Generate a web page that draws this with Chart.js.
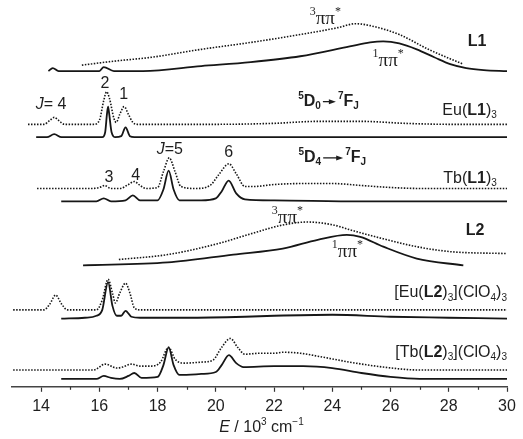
<!DOCTYPE html>
<html>
<head>
<meta charset="utf-8">
<script src="https://cdn.jsdelivr.net/npm/chart.js@4.4.1/dist/chart.umd.min.js"></script>
<style>
  html, body { margin: 0; padding: 0; background: #fff; }
</style>
</head>
<body>
<canvas id="chart" width="523" height="439"></canvas>
<script>
// x axis: E / 10^3 cm-1, y: stacked intensity (arbitrary, offset per trace)
const xMin = 13
const xMax = 30
const yMax = 392

// L1 ligand: fluorescence (solid) and phosphorescence (dotted)
const l1Solid = [[14.25,320],[14.4,323],[14.6,320],[16.0,320],[16.15,324],[16.5,320],[17.5,320],[19.5,325],[21.2,329],[22.9,335],[24.6,345],[25.3,349],[25.75,350],[26.3,348],[26.9,342],[27.5,334],[28.05,327],[28.6,323],[29.2,321],[30,320]]
const l1Dotted = [[15.4,326],[16.5,330],[17.8,334],[19.5,342],[21.2,349],[22.9,357],[24.2,364],[24.8,368],[25.3,366],[26.3,357],[27.3,342],[28.0,333],[28.5,327]]

// Eu(L1)3
const euL1Dotted = [[13.55,266],[14.1,266],[14.3,270],[14.45,273],[14.6,270],[14.8,266],[15.8,266],[16.0,270],[16.15,290],[16.25,299],[16.35,292],[16.5,272],[16.58,268],[16.7,276],[16.85,284],[17.0,276],[17.15,268],[17.3,266],[20,266],[22,267],[23.5,269],[25,269],[26.5,267],[28,266],[30,266]]
const euL1Solid = [[13.83,253],[14.2,253],[14.45,256],[14.7,253],[16.1,253],[16.2,258],[16.26,276],[16.3,284],[16.34,276],[16.42,258],[16.55,253],[16.75,254],[16.9,263],[17.05,254],[17.2,253],[30,253]]

// Tb(L1)3
const tbL1Dotted = [[13.86,201],[15.7,201],[16.0,202],[16.18,204],[16.4,201],[16.7,201],[17.0,205],[17.2,208],[17.4,204],[17.6,201],[18.0,202],[18.2,218],[18.4,232],[18.6,218],[18.8,203],[19.3,201],[19.8,204],[20.1,215],[20.45,226],[20.7,216],[21.0,203],[21.3,203],[22,205],[23,206],[24,206],[25,204],[26,202],[27,201],[30,201]]
const tbL1Solid = [[14.69,188],[15.9,188],[16.15,191],[16.4,188],[16.9,189],[17.15,194],[17.4,189],[18.0,189],[18.2,200],[18.38,219],[18.55,200],[18.75,189],[19.5,189],[20.0,191],[20.2,198],[20.44,209],[20.7,196],[21.0,190],[22,189],[25,188],[30,188]]

// L2 ligand
const l2Dotted = [[16.67,129],[18.35,134],[20.06,145],[21.2,155],[22.3,164],[23.15,167],[24.04,164],[24.62,159],[25.75,150],[26.9,142],[28.05,137],[30,135]]
const l2Solid = [[15.44,123],[18.35,126],[20.6,134],[22.3,140],[23.5,149],[24.5,154],[24.96,152],[25.75,142],[26.9,130],[28.5,123]]

// [Eu(L2)3](ClO4)3
const euL2Dotted = [[13.04,78],[14.1,78],[14.3,84],[14.5,93],[14.7,84],[14.9,78],[15.9,78],[16.1,88],[16.3,109],[16.45,95],[16.55,85],[16.7,95],[16.9,105],[17.05,95],[17.2,80],[17.4,78],[30,78]]
const euL2Solid = [[14.69,69],[15.5,70],[15.9,72],[16.1,78],[16.3,106],[16.45,82],[16.6,72],[16.75,72],[16.9,77],[17.1,71],[17.4,70],[19,70],[21,71],[22,72],[24,73],[26,71],[28,70],[30,69]]

// [Tb(L2)3](ClO4)3
const tbL2Dotted = [[13.04,17],[15.8,17],[16.2,23],[16.6,19],[16.8,20],[17.1,23],[17.4,21],[17.8,21],[18.1,25],[18.38,40],[18.6,28],[18.9,24],[19.5,25],[19.9,27],[20.2,40],[20.5,49],[20.75,40],[21.0,33],[21.5,34],[22.0,34],[22.3,35],[22.9,34],[23.5,31],[24.6,25],[25.75,20],[27,17],[30,17]]
const tbL2Solid = [[14.69,8],[15.9,8],[16.15,11],[16.4,9],[16.7,8],[17.0,11],[17.2,14],[17.45,9],[18.0,10],[18.2,22],[18.38,40],[18.55,22],[18.75,12],[19.5,13],[20.0,15],[20.2,22],[20.45,32],[20.7,24],[20.95,20],[22,21],[23,21],[24,19],[25,14],[26,10],[27,8],[30,8]]

const solidTraces = [l1Solid, euL1Solid, tbL1Solid, l2Solid, euL2Solid, tbL2Solid]
const dottedTraces = [l1Dotted, euL1Dotted, tbL1Dotted, l2Dotted, euL2Dotted, tbL2Dotted]

// annotations: [x (E), y, align, segments]
const pipi3 = [{ t: '3', sup: 1, serif: 1 }, { t: 'ππ', serif: 1 }, { t: '*', sup: 1, serif: 1 }]
const pipi1 = [{ t: '1', sup: 1, serif: 1 }, { t: 'ππ', serif: 1 }, { t: '*', sup: 1, serif: 1 }]
const labels = [
    [23.76, 373, 'center', pipi3],
    [25.92, 330, 'center', pipi1],
    [28.97, 350, 'center', [{ t: 'L1', b: 1 }]],
    [14.34, 286, 'center', [{ t: 'J', i: 1 }, { t: '= 4' }]],
    [16.19, 307, 'center', [{ t: '2' }]],
    [16.84, 296, 'center', [{ t: '1' }]],
    [23.87, 289, 'center', [{ t: '5', sup: 1, b: 1 }, { t: 'D', b: 1 }, { t: '0', sub: 1, b: 1 }, { arrow: 17 }, { t: '7', sup: 1, b: 1 }, { t: 'F', b: 1 }, { t: 'J', sub: 1, b: 1 }]],
    [29.65, 280, 'right', [{ t: 'Eu(' }, { t: 'L1', b: 1 }, { t: ')' }, { t: '3', sub: 1 }]],
    [18.42, 240, 'center', [{ t: 'J', i: 1 }, { t: '=5' }]],
    [20.44, 237, 'center', [{ t: '6' }]],
    [16.33, 212, 'center', [{ t: '3' }]],
    [17.25, 214, 'center', [{ t: '4' }]],
    [24.0, 232, 'center', [{ t: '5', sup: 1, b: 1 }, { t: 'D', b: 1 }, { t: '4', sub: 1, b: 1 }, { arrow: 24 }, { t: '7', sup: 1, b: 1 }, { t: 'F', b: 1 }, { t: 'J', sub: 1, b: 1 }]],
    [29.65, 211, 'right', [{ t: 'Tb(' }, { t: 'L1', b: 1 }, { t: ')' }, { t: '3', sub: 1 }]],
    [22.46, 171, 'center', pipi3],
    [24.52, 137, 'center', pipi1],
    [28.9, 158, 'center', [{ t: 'L2', b: 1 }]],
    [30, 95, 'right', [{ t: '[Eu(' }, { t: 'L2', b: 1 }, { t: ')' }, { t: '3', sub: 1 }, { t: '](ClO' }, { t: '4', sub: 1 }, { t: ')' }, { t: '3', sub: 1 }]],
    [30, 35, 'right', [{ t: '[Tb(' }, { t: 'L2', b: 1 }, { t: ')' }, { t: '3', sub: 1 }, { t: '](ClO' }, { t: '4', sub: 1 }, { t: ')' }, { t: '3', sub: 1 }]]
]
const minorTicks = [15, 17, 19, 21, 23, 25, 27, 29]

const textColor = '#1e1e1e'
const lineColor = '#161616'

function drawRich(ctx, segs, x, y, size, align) {
    let parts = segs.map(s => {
        let fs = (s.sup || s.sub) ? Math.round(size * 0.62) : size
        let fam = s.serif ? '"Liberation Serif"' : '"Liberation Sans"'
        let font = (s.i ? 'italic ' : '') + (s.b ? 'bold ' : '') + fs + 'px ' + fam
        ctx.font = font
        let w = s.arrow ? s.arrow : ctx.measureText(s.t).width
        let dy = s.sup ? -size * 0.36 : s.sub ? size * 0.3 : 0
        return { s, font, w, dy }
    })
    let total = parts.reduce((a, p) => a + p.w, 0)
    let cx = align === 'right' ? x - total : align === 'center' ? x - total / 2 : x
    ctx.save()
    ctx.fillStyle = textColor
    ctx.strokeStyle = textColor
    ctx.textBaseline = 'middle'
    ctx.textAlign = 'left'
    parts.forEach(p => {
        if (p.s.arrow) {
            let x0 = cx + 2, x1 = cx + p.w - 2
            ctx.lineWidth = 1.3
            ctx.beginPath()
            ctx.moveTo(x0, y)
            ctx.lineTo(x1 - 5, y)
            ctx.stroke()
            ctx.beginPath()
            ctx.moveTo(x1, y)
            ctx.lineTo(x1 - 7, y - 2.5)
            ctx.lineTo(x1 - 7, y + 2.5)
            ctx.closePath()
            ctx.fill()
        } else {
            ctx.font = p.font
            ctx.fillText(p.s.t, cx, y + p.dy)
        }
        cx += p.w
    })
    ctx.restore()
}

const labelPlugin = {
    id: 'labels',
    afterDraw(chart) {
        let ctx = chart.ctx
        let xs = chart.scales.x, ys = chart.scales.y
        labels.forEach(l => {
            let size = l[3][0].serif ? 19 : 16
            drawRich(ctx, l[3], xs.getPixelForValue(l[0]), ys.getPixelForValue(l[1]), size, l[2])
        })
        // minor ticks
        ctx.save()
        ctx.strokeStyle = '#333'
        ctx.lineWidth = 1.2
        minorTicks.forEach(v => {
            let px = Math.round(xs.getPixelForValue(v)) + 0.5
            ctx.beginPath()
            ctx.moveTo(px, chart.chartArea.bottom)
            ctx.lineTo(px, chart.chartArea.bottom + 3)
            ctx.stroke()
        })
        ctx.restore()
        // axis title
        drawRich(ctx, [{ t: 'E', i: 1 }, { t: ' / 10' }, { t: '3', sup: 1 }, { t: ' cm' }, { t: '−1', sup: 1 }],
            (chart.chartArea.left + chart.chartArea.right) / 2 + 2, 428, 16, 'center')
    }
}

let datasets = []
solidTraces.forEach(tr => {
    datasets.push({
        data: tr.map(p => ({ x: p[0], y: p[1] })),
        showLine: true,
        borderColor: lineColor,
        borderWidth: 1.8,
        pointRadius: 0,
        cubicInterpolationMode: 'monotone'
    })
})
dottedTraces.forEach(tr => {
    datasets.push({
        data: tr.map(p => ({ x: p[0], y: p[1] })),
        showLine: true,
        borderColor: lineColor,
        borderWidth: 1.6,
        borderDash: [1.5, 1.5],
        pointRadius: 0,
        cubicInterpolationMode: 'monotone'
    })
})

new Chart(document.getElementById('chart'), {
    type: 'scatter',
    data: { datasets: datasets },
    options: {
        responsive: false,
        animation: false,
        layout: { padding: { left: 12, right: 16, top: 0, bottom: 18 } },
        plugins: { legend: { display: false }, tooltip: { enabled: false } },
        scales: {
            x: {
                type: 'linear',
                min: xMin,
                max: xMax,
                ticks: {
                    stepSize: 2,
                    includeBounds: false,
                    color: textColor,
                    padding: 5,
                    font: { family: '"Liberation Sans"', size: 16 },
                    maxRotation: 0
                },
                grid: { drawOnChartArea: false, drawTicks: true, tickLength: 5, tickColor: '#333', tickWidth: 1.2 },
                border: { display: true, color: '#444', width: 1.5 }
            },
            y: {
                display: false,
                min: 0,
                max: yMax
            }
        }
    },
    plugins: [labelPlugin]
})
</script>
</body>
</html>
